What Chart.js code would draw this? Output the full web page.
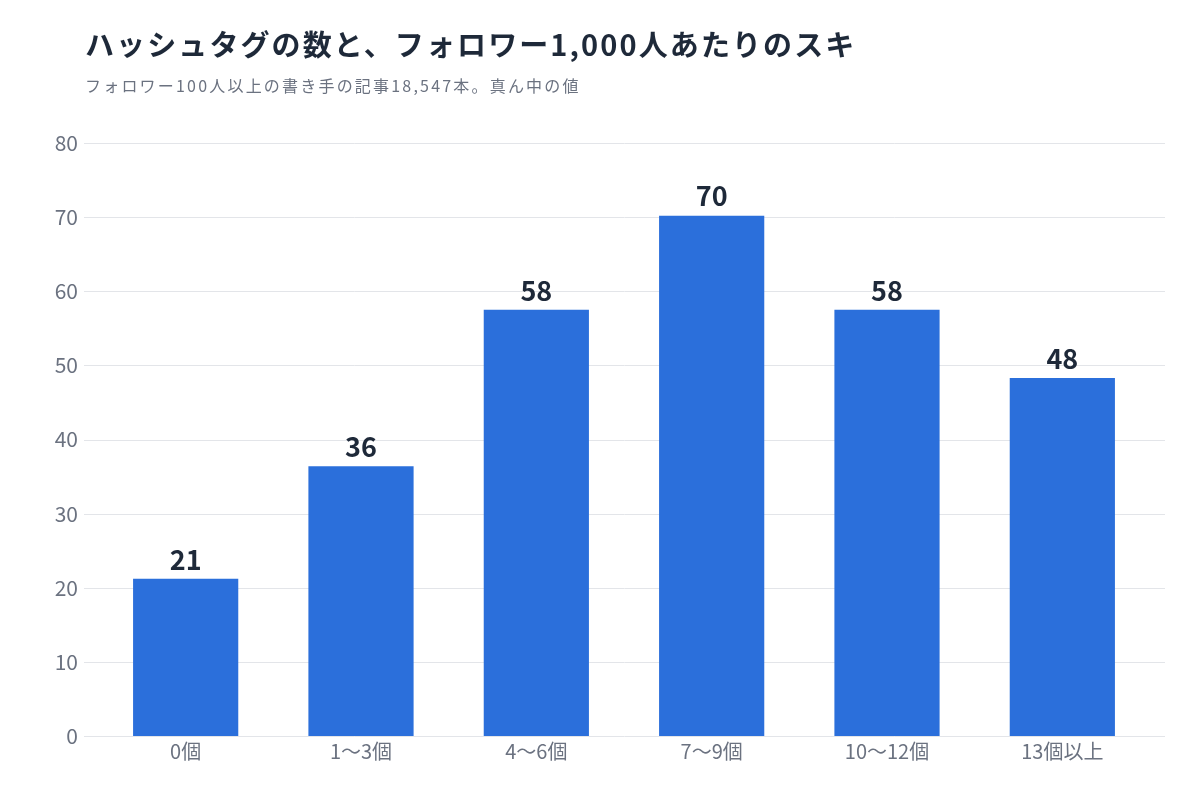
<!DOCTYPE html>
<html><head><meta charset="utf-8">
<script src="https://cdn.jsdelivr.net/npm/chart.js@4/dist/chart.umd.min.js"></script>
<style>
html,body{margin:0;padding:0;background:#fff;}
#wrap{position:relative;width:1200px;height:800px;}
#title{position:absolute;left:85px;top:22px;font-family:"Noto Sans CJK JP",sans-serif;font-weight:700;font-size:29px;color:#1e2939;letter-spacing:2.1px;white-space:nowrap;}
#sub{position:absolute;left:85px;top:73px;font-family:"Noto Sans CJK JP",sans-serif;font-size:16px;color:#6b7280;letter-spacing:2.2px;white-space:nowrap;}
canvas{position:absolute;left:0;top:0;}
</style></head><body>
<div id="wrap">
<canvas id="c" width="1200" height="800"></canvas>
<div id="title">ハッシュタグの数と、フォロワー1,000人あたりのスキ</div>
<div id="sub">フォロワー100人以上の書き手の記事18,547本。真ん中の値</div>
</div>
<script>
const categories = ["0個","1〜3個","4〜6個","7〜9個","10〜12個","13個以上"];
const values = [21.2, 36.4, 57.5, 70.2, 57.5, 48.3];
const valueLabels = ["21","36","58","70","58","48"];
const yTicks = [0,10,20,30,40,50,60,70,80];

const FONT = '"Noto Sans CJK JP", sans-serif';

const gridPlugin = {
  id:'gridExt',
  beforeDatasetsDraw(chart){
    const y = chart.scales.y, ctx = chart.ctx;
    ctx.save();
    ctx.strokeStyle = '#e3e5e9';
    ctx.lineWidth = 1;
    y.ticks.forEach((t,i)=>{
      const py = Math.round(y.getPixelForTick(i)) + 0.5;
      ctx.beginPath();
      ctx.moveTo(84, py);
      ctx.lineTo(1165, py);
      ctx.stroke();
    });
    ctx.restore();
  }
};
const labelPlugin = {
  id:'valLabels',
  afterDatasetsDraw(chart){
    const ctx = chart.ctx, meta = chart.getDatasetMeta(0);
    ctx.save();
    ctx.font = '700 27px ' + FONT;
    ctx.fillStyle = '#1e2939';
    ctx.textAlign = 'center';
    ctx.textBaseline = 'bottom';
    meta.data.forEach((bar,i)=>{
      ctx.fillText(valueLabels[i], bar.x, bar.y - 6);
    });
    ctx.restore();
  }
};

new Chart(document.getElementById('c'), {
  type:'bar',
  data:{labels:categories, datasets:[{data:values, backgroundColor:'#2b6fdb', barPercentage:0.6, categoryPercentage:1.0}]},
  options:{
    responsive:false, animation:false,
    layout:{padding:{top:143, left:38, right:50, bottom:34}},
    plugins:{legend:{display:false}, tooltip:{enabled:false}},
    scales:{
      x:{
        grid:{display:false, drawTicks:false},
        border:{display:false},
        ticks:{color:'#6b7280', font:{family:FONT, size:20}, padding:3, maxRotation:0}
      },
      y:{
        min:0, max:80,
        afterBuildTicks(s){ s.ticks = yTicks.map(v=>({value:v})); },
        afterFit(s){ s.width = 60; },
        grid:{display:false, drawTicks:false},
        border:{display:false},
        ticks:{color:'#6b7280', font:{family:FONT, size:21}, padding:20}
      }
    }
  },
  plugins:[gridPlugin, labelPlugin]
});
</script>
</body></html>
